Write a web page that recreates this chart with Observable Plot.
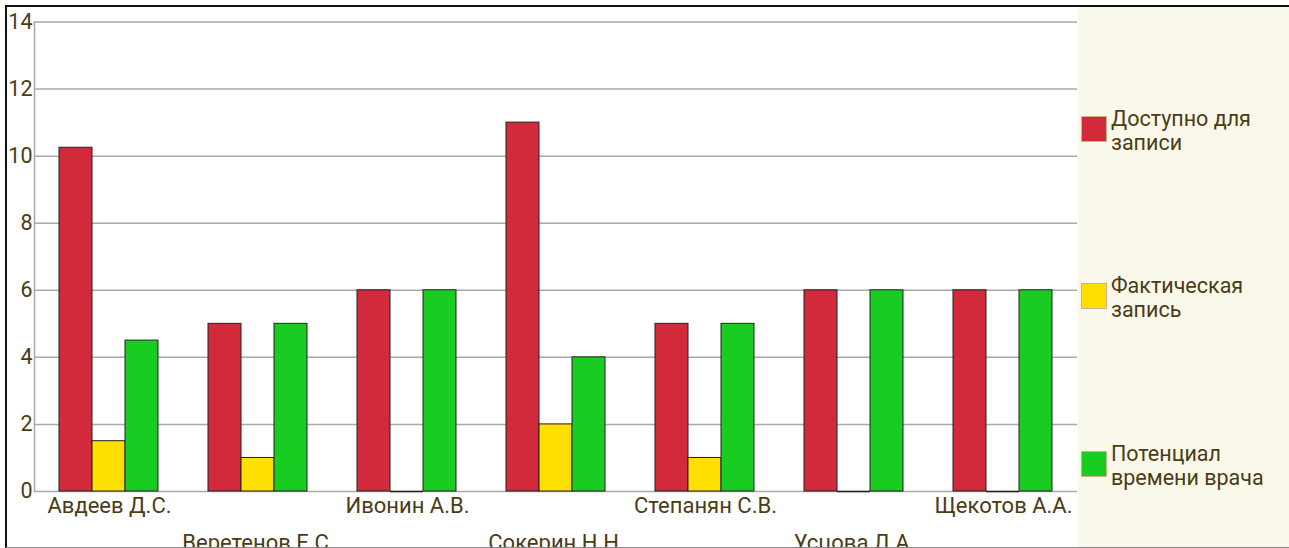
<!DOCTYPE html>
<html>
<head>
<meta charset="utf-8">
<script src="https://cdn.jsdelivr.net/npm/d3@7"></script>
<script src="https://cdn.jsdelivr.net/npm/@observablehq/plot@0.6"></script>
<style>
  html, body { margin: 0; padding: 0; background: #fff; }
  #wrap { position: relative; width: 1289px; height: 548px; overflow: hidden; font-family: Roboto, "DejaVu Sans", sans-serif; }
  #wrap svg { position: absolute; left: 0; top: 0; }
  #panel { position: absolute; left: 1078px; top: 7px; width: 211px; height: 541px; background: #FAF8EA; }
  #frame { position: absolute; left: 5px; top: 5px; width: 1290px; height: 540px; border-top: 2px solid #111; border-left: 2px solid #111; border-bottom: 1px solid #8a8a8a; pointer-events: none; }
  .item { position: absolute; left: 1081px; display: flex; align-items: flex-start; }
  .sw { width: 24px; height: 24px; border: 1px solid #c9b48a; flex: none; }
  .lbl { margin-left: 4px; margin-top: -9px; font-size: 21.5px; line-height: 23.5px; color: #4a3c14; white-space: nowrap; }
</style>
</head>
<body>
<div id="wrap"></div>
<script>
const doctors = ["Авдеев Д.С.", "Веретенов Е.С.", "Ивонин А.В.", "Сокерин Н.Н.", "Степанян С.В.", "Усцова Л.А.", "Щекотов А.А."];
const series = ["Доступно для записи", "Фактическая запись", "Потенциал времени врача"];
const legendLines = [["Доступно для", "записи"], ["Фактическая", "запись"], ["Потенциал", "времени врача"]];
const available = [10.25, 5, 6, 11, 5, 6, 6];
const actual = [1.5, 1, 0, 2, 1, 0, 0];
const potential = [4.5, 5, 6, 4, 5, 6, 6];
const colors = ["#D22A3A", "#FFDF00", "#19CC22"];
const yTicks = [0, 2, 4, 6, 8, 10, 12, 14];

const W = 1289, H = 548;
const M = {marginLeft: 34, marginRight: 212, marginTop: 21.5, marginBottom: 57};
const textColor = "#4a3c14";
const font = "Roboto, 'DejaVu Sans', sans-serif";

const values = [available, actual, potential];
const data = doctors.flatMap((d, i) => series.map((s, j) => ({doctor: d, series: s, value: values[j][i]})));

const wrap = document.getElementById("wrap");

const back = Plot.plot({
  width: W, height: H, ...M,
  style: {fontFamily: font, background: "white"},
  x: {domain: doctors, paddingInner: 0.336, paddingOuter: 0.168, axis: null},
  y: {domain: [0, 14], axis: null},
  marks: [
    Plot.gridY(yTicks, {stroke: "#a9a9a9", strokeOpacity: 1, strokeWidth: 1.5}),
    Plot.frame({anchor: "left", stroke: "#a9a9a9", strokeWidth: 1.5}),
    Plot.axisY(yTicks, {tickSize: 0, tickPadding: 2, fontSize: 21.5, fill: textColor, tickFormat: d => String(d)}),
    Plot.text(doctors.filter((d, i) => i % 2 === 0), {x: d => d, frameAnchor: "bottom", lineAnchor: "bottom", dy: 21.5, fontSize: 22, fill: textColor}),
    Plot.text(doctors.filter((d, i) => i % 2 === 1), {x: d => d, frameAnchor: "bottom", lineAnchor: "bottom", dy: 58, fontSize: 22, fill: textColor})
  ]
});
wrap.appendChild(back);

const panel = document.createElement("div");
panel.id = "panel";
wrap.appendChild(panel);

const bars = Plot.plot({
  width: W, height: H, ...M,
  style: {fontFamily: font, background: "transparent"},
  fx: {domain: doctors, paddingInner: 0.336, paddingOuter: 0.168, axis: null, label: null},
  x: {domain: series, padding: 0, axis: null},
  y: {domain: [0, 14], axis: null},
  color: {domain: series, range: colors},
  marks: [
    Plot.barY(data, {fx: "doctor", x: "series", y: "value", fill: "series", stroke: "#222", strokeWidth: 1}),
    Plot.tickY(data.filter(d => d.value === 0), {fx: "doctor", x: "series", y: "value", stroke: "#222", strokeWidth: 1.5})
  ]
});
wrap.appendChild(bars);

const tops = [116, 283, 451];
series.forEach((s, j) => {
  const it = document.createElement("div");
  it.className = "item";
  it.style.top = tops[j] + "px";
  const sw = document.createElement("div");
  sw.className = "sw";
  sw.style.background = colors[j];
  const lbl = document.createElement("div");
  lbl.className = "lbl";
  lbl.innerHTML = legendLines[j].join("<br>");
  it.appendChild(sw);
  it.appendChild(lbl);
  wrap.appendChild(it);
});

const frame = document.createElement("div");
frame.id = "frame";
wrap.appendChild(frame);
</script>
</body>
</html>
